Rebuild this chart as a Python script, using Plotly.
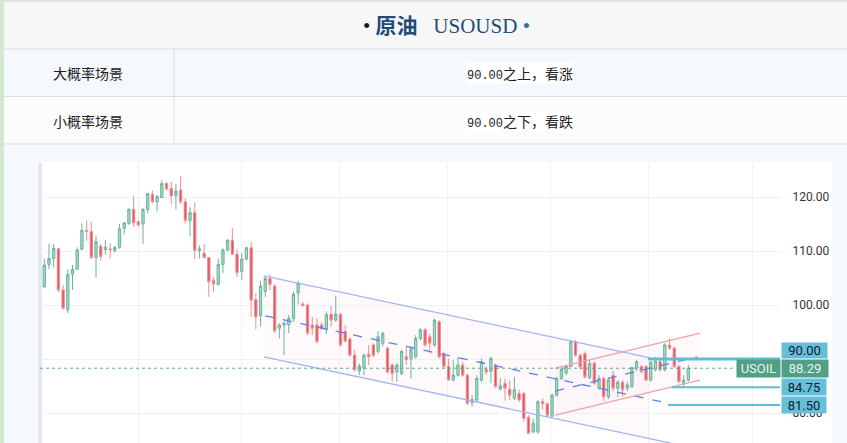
import plotly.graph_objects as go

W, H = 847, 443

# ---------------- data ----------------
opens = [103.4,107.5,108.6,110.4,102.8,99.1,105.7,106.6,110.3,113.8,113.6,108.8,110.9,110.3,110.4,110.1,110.7,114.2,115.1,117.7,
         115.4,115.0,117.7,120.5,119.1,119.9,122.5,121.6,120.2,121.3,119.1,115.6,117.1,110.1,109.6,108.8,104.6,103.8,107.5,110.2,
         112.0,109.4,106.2,108.5,110.6,101.0,98.0,102.5,104.9,103.5,95.7,96.3,96.3,97.5,102.2,100.2,100.0,96.3,96.3,96.3,
         95.4,98.3,97.2,98.3,95.1,93.7,90.7,87.8,88.3,90.9,92.6,91.4,92.9,92.0,88.9,87.6,87.3,90.4,90.0,90.4,
         93.8,95.4,94.1,92.6,96.9,91.0,88.6,86.1,87.0,88.9,87.0,81.9,82.4,86.1,88.1,87.7,88.9,84.4,85.5,84.4,
         82.7,83.6,83.6,79.2,76.5,76.5,82.1,81.7,79.4,83.3,86.4,87.4,88.6,93.2,90.7,91.0,86.5,89.2,84.6,86.4,
         83.0,87.0,84.6,85.7,84.6,84.9,88.3,88.6,88.6,86.1,88.0,89.5,88.0,92.6,92.0,88.6,85.5,86.1]
highs = [108.6,111.4,111.3,110.6,103.7,106.6,107.4,110.7,115.1,115.6,115.4,112.8,111.3,112.0,111.5,110.9,115.0,115.4,117.9,120.2,
         115.7,117.9,120.8,121.2,120.4,123.1,122.8,122.8,122.4,123.9,119.8,118.1,119.0,111.0,111.3,108.9,105.2,108.6,110.5,112.2,
         114.2,110.3,109.6,110.8,111.7,102.2,104.5,105.4,105.6,103.8,96.6,97.0,98.2,102.5,104.5,100.5,100.3,97.8,97.5,96.9,
         98.8,99.8,101.7,98.5,96.3,94.0,91.7,89.2,91.0,92.6,92.9,95.1,95.1,92.3,89.2,89.2,91.7,92.3,92.3,94.4,
         95.7,95.7,94.7,97.5,97.2,91.4,90.1,89.8,90.4,89.5,87.3,83.3,87.0,90.1,88.6,90.4,89.2,86.4,86.4,86.1,
         86.7,84.3,83.9,79.6,79.0,82.4,82.7,81.9,83.6,86.7,88.5,88.9,93.5,93.5,91.0,91.4,89.8,89.6,87.0,86.7,
         86.4,87.8,86.1,86.1,85.8,88.6,89.8,88.9,88.9,89.6,90.4,90.1,92.9,93.8,92.3,88.9,87.0,88.9]
lows = [103.1,106.6,107.0,102.3,99.1,98.5,102.8,106.5,110.2,111.9,108.5,105.1,108.2,109.3,108.6,109.7,110.4,113.1,114.8,114.5,
        114.5,111.3,117.0,118.8,117.3,119.8,121.2,118.7,117.7,118.7,115.1,112.7,108.5,108.6,108.6,101.5,102.5,103.7,105.9,109.9,
        109.3,105.2,104.6,108.3,97.8,95.5,96.0,101.5,102.8,94.8,93.8,90.7,94.8,96.9,100.1,99.7,94.4,94.4,92.9,95.4,
        94.6,96.0,96.9,92.3,93.1,90.4,87.7,87.0,87.0,88.9,90.4,91.0,92.3,87.3,85.8,85.8,87.0,88.9,86.4,90.1,
        93.5,92.3,91.0,92.3,90.1,88.3,86.0,85.8,86.7,86.7,81.5,81.2,82.1,85.8,87.0,85.5,84.6,84.3,82.3,82.4,
        82.4,82.1,78.4,76.1,76.2,76.2,80.6,79.3,79.3,83.0,86.1,87.0,88.5,90.4,88.0,86.4,86.3,85.2,84.3,82.2,
        82.6,84.0,83.0,83.0,84.0,84.6,87.7,87.3,85.9,85.8,87.7,87.7,87.7,91.7,88.3,85.5,84.75,85.8]
closes = [107.4,108.6,110.5,102.8,99.4,105.6,106.6,110.2,113.8,113.6,108.8,111.7,109.0,110.7,110.2,110.7,114.1,115.2,117.7,115.2,
          114.8,117.7,120.6,119.1,120.1,122.5,121.5,120.2,121.1,119.1,115.7,117.1,110.1,110.4,108.8,104.3,103.9,107.5,110.2,112.0,
          109.4,106.0,108.5,110.6,100.9,97.8,103.5,104.9,103.8,95.2,96.3,96.6,97.5,102.0,104.0,99.9,94.8,95.7,93.2,95.6,
          98.2,97.2,98.3,92.6,93.3,90.7,88.0,88.7,90.7,90.4,90.7,94.1,94.7,87.6,87.3,88.9,91.4,89.9,91.8,93.8,
          95.4,92.6,92.9,97.2,90.4,88.6,86.1,87.0,88.9,87.0,81.8,82.5,86.4,89.5,87.6,90.1,84.9,85.0,84.6,83.3,
          84.3,82.4,79.0,76.2,78.1,82.1,81.7,79.6,83.3,86.4,88.1,88.6,93.2,90.7,88.5,86.7,89.2,85.5,86.4,83.0,
          86.1,84.6,85.7,84.3,85.2,88.4,89.5,87.7,86.1,89.4,89.6,88.0,92.6,92.0,88.6,85.8,86.1,88.29]
bars = list(range(len(opens)))

price_ticks = [80, 90, 100, 110, 120]
price_tick_text = ["80.00", "", "100.00", "110.00", "120.00"]
time_grid = [20.1, 41.9, 62.7, 85.7, 107.6, 128.5, 150.6]

last_price = 88.29
symbol = "USOIL"
levels = [90.00, 84.75, 81.50]
level_start = [128.4, 133.5, 132.7]

# descending channel (bar index, price)
down_upper = [(46.7, 105.4), (128.9, 90.2)]
down_lower = [(46.7, 90.4), (135.0, 74.1)]
down_mid = [(47.0, 98.0), (132.5, 81.85)]
# ascending channel
up_upper = [(108.7, 88.33), (139.5, 94.8)]
up_lower = [(108.7, 79.6), (139.5, 86.1)]
up_mid = [(108.7, 84.07), (138.9, 90.4)]

title_name = "原油"
title_code = "USOUSD"
rows = [("大概率场景", "90.00", "之上，看涨"), ("小概率场景", "90.00", "之下，看跌")]

# ---------------- figure ----------------
XR = [-0.915, 156.5]
YR = [74.444, 126.296]

def px(x):
    return x / W

def py(y):
    return 1 - y / H

fig = go.Figure()
fig.add_trace(go.Candlestick(
    x=bars, open=opens, high=highs, low=lows, close=closes,
    increasing=dict(line=dict(color="#69b39b", width=1), fillcolor="#a6d8c7"),
    decreasing=dict(line=dict(color="#ee8d92", width=1), fillcolor="#e4525a"),
    whiskerwidth=0, showlegend=False, hoverinfo="skip"))

shapes = []
# page backgrounds
shapes.append(dict(type="rect", xref="paper", yref="paper", x0=0, x1=1, y0=py(2), y1=1,
                   fillcolor="#e2e2e2", line_width=0, layer="below"))
shapes.append(dict(type="rect", xref="paper", yref="paper", x0=px(4), x1=1, y0=py(49), y1=py(2),
                   fillcolor="#f7f7f7", line_width=0, layer="below"))
shapes.append(dict(type="rect", xref="paper", yref="paper", x0=px(4), x1=1, y0=py(96), y1=py(49),
                   fillcolor="#f5f9fd", line_width=0, layer="below"))
shapes.append(dict(type="rect", xref="paper", yref="paper", x0=px(4), x1=1, y0=py(144), y1=py(96),
                   fillcolor="#fcfcfd", line_width=0, layer="below"))
shapes.append(dict(type="rect", xref="paper", yref="paper", x0=0, x1=px(4), y0=0, y1=1,
                   fillcolor="#d4e7d1", line_width=0, layer="below"))
for yy in (49, 96.5, 144):
    shapes.append(dict(type="line", xref="paper", yref="paper", x0=px(4), x1=1, y0=py(yy), y1=py(yy),
                       line=dict(color="#dcdcdc", width=1), layer="below"))
shapes.append(dict(type="line", xref="paper", yref="paper", x0=px(174), x1=px(174), y0=py(144), y1=py(49),
                   line=dict(color="#dcdcdc", width=1), layer="below"))
# white chart panel
shapes.append(dict(type="rect", xref="paper", yref="paper", x0=px(37), x1=px(832), y0=0, y1=py(162),
                   fillcolor="#ffffff", line_width=0, layer="below"))
shapes.append(dict(type="rect", xref="paper", yref="paper", x0=px(38), x1=px(42), y0=0, y1=py(163),
                   fillcolor="#e5e7ee", line_width=0, layer="below"))

# channel fills
def poly(a, b, c, d):
    return "M {} {} L {} {} L {} {} L {} {} Z".format(a[0], a[1], b[0], b[1], c[0], c[1], d[0], d[1])

slope_dl = (down_lower[1][1] - down_lower[0][1]) / (down_lower[1][0] - down_lower[0][0])
dl_end = (down_upper[1][0], down_lower[0][1] + slope_dl * (down_upper[1][0] - down_lower[0][0]))
shapes.append(dict(type="path", xref="x", yref="y", path=poly(down_upper[0], down_upper[1], dl_end, down_lower[0]),
                   fillcolor="rgba(245,215,232,0.12)", line_width=0, layer="below"))
shapes.append(dict(type="path", xref="x", yref="y", path=poly(up_upper[0], up_upper[1], up_lower[1], up_lower[0]),
                   fillcolor="rgba(245,215,232,0.12)", line_width=0, layer="below"))

def seg(p, color, dash="solid", width=1.3):
    return dict(type="line", xref="x", yref="y", x0=p[0][0], y0=p[0][1], x1=p[1][0], y1=p[1][1],
                line=dict(color=color, width=width, dash=dash), layer="above")

shapes += [seg(down_upper, "#a4b3f6"), seg(down_lower, "#a4b3f6"), seg(down_mid, "#5c7ef2", "dash"),
           seg(up_upper, "#f2a2a6"), seg(up_lower, "#f2a2a6"), seg(up_mid, "#5c7ef2", "dash")]

# last price dotted line
shapes.append(dict(type="line", xref="x", yref="y", x0=XR[0], x1=147.2, y0=last_price, y1=last_price,
                   line=dict(color="#5aa88c", width=1, dash="dot"), layer="above"))
# level lines
for lv, st, wd in zip(levels, level_start, [3, 2, 2]):
    shapes.append(dict(type="line", xref="x", yref="y", x0=st, x1=XR[1], y0=lv, y1=lv,
                       line=dict(color="#5fbdd6", width=wd), layer="above"))

annotations = []
annotations.append(dict(
    x=px(446), y=py(26), xref="paper", yref="paper", xanchor="center", yanchor="middle", showarrow=False,
    text=("<span style='color:#1a1a1a'>•</span> <b>" + title_name + "</b>   " + title_code +
          " <span style='color:#2d6ea6'>•</span>"),
    font=dict(family="Liberation Serif, Noto Sans CJK SC", size=21, color="#1f4d78")))
for i, (lab, num, rest) in enumerate(rows):
    yc = 73 + 48 * i
    annotations.append(dict(x=px(88), y=py(yc), xref="paper", yref="paper", xanchor="center", yanchor="middle",
                            showarrow=False, text=lab,
                            font=dict(family="Noto Sans CJK SC", size=14, color="#222222")))
    annotations.append(dict(x=px(520), y=py(yc), xref="paper", yref="paper", xanchor="center", yanchor="middle",
                            showarrow=False,
                            text="<span style='font-family:Liberation Mono;font-size:12px'>" + num + "</span>" + rest,
                            bgcolor="#ffffff", borderpad=0,
                            font=dict(family="Noto Sans CJK SC", size=14, color="#222222")))

box_font = "Roboto, Arial, sans-serif"
blue_box = "#66bfd8"
green_box = "#519f87"
annotations.append(dict(x=px(781), xref="paper", xanchor="left", y=levels[0], yref="y", yanchor="bottom",
                        text="{:.2f}".format(levels[0]), showarrow=False, bgcolor=blue_box, width=45, height=15,
                        borderpad=0, font=dict(family=box_font, size=13, color="#132030")))
annotations.append(dict(x=px(781), xref="paper", xanchor="left", y=last_price, yref="y", yanchor="middle",
                        text="{:.2f}".format(last_price), showarrow=False, bgcolor=green_box, width=46, height=17,
                        borderpad=0, font=dict(family=box_font, size=13, color="#e6f3ee")))
annotations.append(dict(x=px(736), xref="paper", xanchor="left", y=last_price, yref="y", yanchor="middle",
                        text=symbol, showarrow=False, bgcolor=green_box, width=43, height=17,
                        borderpad=0, font=dict(family=box_font, size=13, color="#e6f3ee")))
for lv in levels[1:]:
    annotations.append(dict(x=px(781), xref="paper", xanchor="left", y=lv, yref="y", yanchor="middle",
                            text="{:.2f}".format(lv), showarrow=False, bgcolor=blue_box, width=44, height=16,
                            borderpad=0, font=dict(family=box_font, size=13, color="#132030")))

fig.update_layout(
    width=W, height=H, margin=dict(l=0, r=0, t=0, b=0),
    paper_bgcolor="#f5f9fe", plot_bgcolor="rgba(0,0,0,0)",
    shapes=shapes, annotations=annotations, showlegend=False,
    xaxis=dict(domain=[px(40), px(780)], range=XR, rangeslider=dict(visible=False),
               tickvals=time_grid, showticklabels=False, showgrid=True, gridcolor="#f0f1f4",
               zeroline=False, showline=False, ticks=""),
    yaxis=dict(domain=[0, py(163)], range=YR, side="right", tickvals=price_ticks,
               ticktext=price_tick_text, showgrid=True, gridcolor="#f0f1f4",
               zeroline=False, showline=False, ticks="outside", ticklen=9, tickcolor="rgba(0,0,0,0)",
               tickfont=dict(family="Roboto, Arial, sans-serif", size=12, color="#333333")),
)

fig.write_html("out.html", config={"displayModeBar": False},
               post_script="document.body.style.margin='0';document.body.style.overflow='hidden';")
